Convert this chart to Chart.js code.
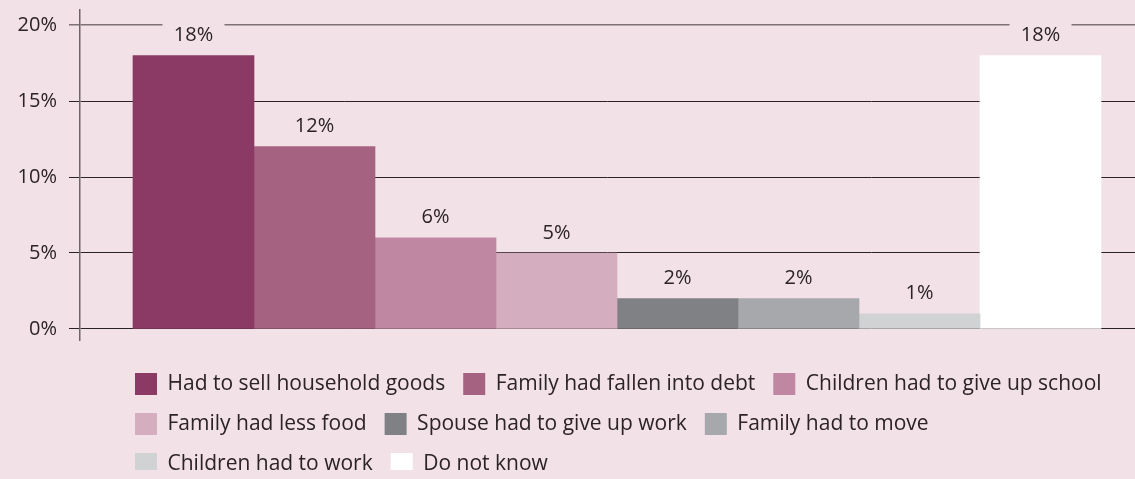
<!DOCTYPE html>
<html lang="en">
<head>
    <meta charset="UTF-8">
    <title>Consequences</title>
    <script src="https://cdn.jsdelivr.net/npm/chart.js"></script>
    <style>
        html, body {
            margin: 0;
            padding: 0;
            background-color: #f2e1e6;
        }
        #wrap {
            width: 1135px;
            height: 479px;
            position: relative;
        }
    </style>
</head>
<body>
    <div id="wrap"><canvas id="myChart"></canvas></div>

    <script>
        // categories and values
        const categories = [
            'Had to sell household goods',
            'Family had fallen into debt',
            'Children had to give up school',
            'Family had less food',
            'Spouse had to give up work',
            'Family had to move',
            'Children had to work',
            'Do not know'
        ];
        const values = [18, 12, 6, 5, 2, 2, 1, 18];
        const colors = ['#8b3a66', '#a66381', '#bf87a2', '#d4adbf', '#808184', '#a7a8ab', '#d1d2d4', '#ffffff'];
        const yTicks = [0, 5, 10, 15, 20];

        const bg = '#f2e1e6';
        const ink = '#2b2326';
        const fontFamily = '"Open Sans", sans-serif';

        // one dataset per bar so each gets its own legend entry
        const datasets = categories.map((c, i) => ({
            label: c,
            data: [{ x: i, y: values[i] }],
            backgroundColor: colors[i],
            borderWidth: 0,
            barThickness: 121,
            grouped: false
        }));

        // value labels on a small box that hides the grid line behind them
        const valueLabels = {
            id: 'valueLabels',
            afterDatasetsDraw(chart) {
                const ctx = chart.ctx;
                ctx.save();
                ctx.font = '20px ' + fontFamily;
                ctx.textAlign = 'center';
                ctx.textBaseline = 'middle';
                chart.data.datasets.forEach((ds, i) => {
                    const bar = chart.getDatasetMeta(i).data[0];
                    const txt = values[i] + '%';
                    const cy = bar.y - 20;
                    ctx.fillStyle = bg;
                    ctx.fillRect(bar.x - 31, cy - 13, 62, 26);
                    ctx.fillStyle = ink;
                    ctx.fillText(txt, bar.x, cy);
                });
                ctx.restore();
            }
        };

        // legend rows start under the first bar
        const legendShift = {
            id: 'legendShift',
            afterLayout(chart) {
                chart.legend.left = 117;
                chart.legend.top = 355;
            }
        };

        const ctx = document.getElementById('myChart').getContext('2d');
        const myChart = new Chart(ctx, {
            type: 'bar',
            data: { datasets: datasets },
            plugins: [valueLabels, legendShift],
            options: {
                responsive: true,
                maintainAspectRatio: false,
                animation: false,
                layout: {
                    padding: { top: 10, right: 0, bottom: 9, left: 0 }
                },
                plugins: {
                    tooltip: { enabled: false },
                    legend: {
                        position: 'bottom',
                        align: 'start',
                        fullSize: false,
                        labels: {
                            boxWidth: 22,
                            boxHeight: 22,
                            padding: 18,
                            color: ink,
                            font: { family: fontFamily, size: 21 }
                        }
                    }
                },
                scales: {
                    x: {
                        type: 'linear',
                        display: false,
                        offset: false,
                        min: -0.938,
                        max: 7.781
                    },
                    y: {
                        min: -0.73,
                        max: 21,
                        afterFit(scale) {
                            scale.width = 80;
                            scale.paddingTop = 0;
                            scale.paddingBottom = 0;
                        },
                        afterBuildTicks(scale) {
                            scale.ticks = yTicks.map(v => ({ value: v }));
                        },
                        border: { display: true, color: '#6e6468', width: 1.5 },
                        grid: {
                            color: c => c.tick && c.tick.value === 20 ? '#7d7176' : '#2b2326',
                            lineWidth: c => c.tick && c.tick.value === 20 ? 1.5 : 1,
                            tickLength: 11
                        },
                        ticks: {
                            padding: 12,
                            color: ink,
                            font: { family: fontFamily, size: 20 },
                            callback: v => v + '%'
                        }
                    }
                }
            }
        });
    </script>
</body>
</html>
